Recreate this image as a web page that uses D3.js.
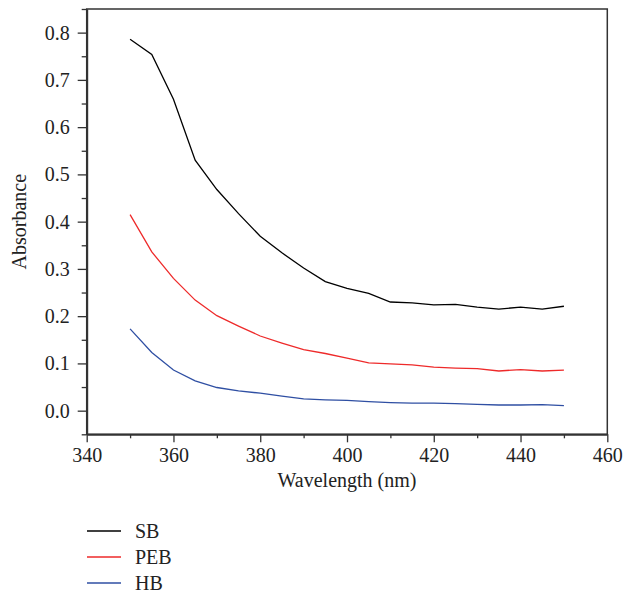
<!DOCTYPE html>
<html>
<head>
<meta charset="utf-8">
<script src="https://cdn.jsdelivr.net/npm/d3@7"></script>
<style>
  body { margin: 0; background: #fff; }
  svg text { font-family: "Liberation Serif", "DejaVu Serif", serif; fill: #222; }
</style>
</head>
<body>
<svg id="chart" width="636" height="595"></svg>
<script>
// wavelengths (nm) and absorbance per sample
const wavelengths = [350, 355, 360, 365, 370, 375, 380, 385, 390, 395, 400, 405, 410, 415, 420, 425, 430, 435, 440, 445, 450];
const sbValues  = [0.786, 0.754, 0.659, 0.530, 0.468, 0.417, 0.369, 0.334, 0.302, 0.273, 0.259, 0.248, 0.230, 0.228, 0.224, 0.225, 0.219, 0.215, 0.219, 0.215, 0.221];
const pebValues = [0.415, 0.336, 0.280, 0.234, 0.201, 0.179, 0.158, 0.143, 0.129, 0.121, 0.111, 0.101, 0.099, 0.097, 0.092, 0.090, 0.089, 0.084, 0.087, 0.084, 0.086];
const hbValues  = [0.173, 0.123, 0.086, 0.063, 0.049, 0.042, 0.037, 0.031, 0.025, 0.023, 0.022, 0.019, 0.017, 0.016, 0.016, 0.015, 0.0135, 0.012, 0.012, 0.0127, 0.0106];
const seriesNames = ["SB", "PEB", "HB"];
const seriesColors = ["#000000", "#ee2a2a", "#2f4fa3"];
const xTicks = [340, 360, 380, 400, 420, 440, 460];
const yTicks = [0.0, 0.1, 0.2, 0.3, 0.4, 0.5, 0.6, 0.7, 0.8];

const svg = d3.select("#chart");
const margin = {top: 9, left: 86.7, right: 28.7, bottom: 160.7};
const W = 636 - margin.left - margin.right;
const H = 595 - margin.top - margin.bottom;
const g = svg.append("g").attr("transform", `translate(${margin.left},${margin.top})`);

const x = d3.scaleLinear().domain([340, 460]).range([0, W]);
const y = d3.scaleLinear().domain([-0.05, 0.85]).range([H, 0]);

// frame
g.append("rect").attr("width", W).attr("height", H)
  .attr("fill", "none").attr("stroke", "#333").attr("stroke-width", 1.5);

// minor ticks
const xMinor = d3.range(340, 461, 10).filter(v => !xTicks.includes(v));
const yMinor = d3.range(-0.05, 0.86, 0.1).map(v => +v.toFixed(2));
g.append("g").attr("transform", `translate(0,${H})`)
  .call(d3.axisBottom(x).tickValues(xMinor).tickSize(4).tickFormat(""))
  .call(a => a.select(".domain").remove())
  .selectAll("line").attr("stroke", "#333").attr("stroke-width", 1.3);
g.append("g")
  .call(d3.axisLeft(y).tickValues(yMinor).tickSize(5).tickFormat(""))
  .call(a => a.select(".domain").remove())
  .selectAll("line").attr("stroke", "#333").attr("stroke-width", 1.3);

// major axes
const xAxis = g.append("g").attr("transform", `translate(0,${H})`)
  .call(d3.axisBottom(x).tickValues(xTicks).tickSize(8).tickSizeOuter(0).tickPadding(6).tickFormat(d3.format("d")));
const yAxis = g.append("g")
  .call(d3.axisLeft(y).tickValues(yTicks).tickSize(9).tickSizeOuter(0).tickPadding(8).tickFormat(d3.format(".1f")));
[xAxis, yAxis].forEach(a => {
  a.select(".domain").attr("stroke", "#333").attr("stroke-width", 2);
  a.selectAll(".tick line").attr("stroke", "#333").attr("stroke-width", 1.3);
  a.selectAll(".tick text")
    .style("font-size", "20px")
    .style("font-family", "'Liberation Serif', 'DejaVu Serif', serif")
    .attr("fill", "#222");
});

// axis titles
g.append("text").attr("x", W / 2).attr("y", H + 53)
  .attr("text-anchor", "middle").attr("font-size", 20).text("Wavelength (nm)");
g.append("text").attr("transform", `translate(${-61},${y(0.4)}) rotate(-90)`)
  .attr("text-anchor", "middle").attr("font-size", 20).text("Absorbance");

// lines
const allSeries = [sbValues, pebValues, hbValues];
const line = d3.line().x((d, i) => x(wavelengths[i])).y(d => y(d));
allSeries.forEach((vals, k) => {
  g.append("path").datum(vals)
    .attr("fill", "none").attr("stroke", seriesColors[k]).attr("stroke-width", 1.3)
    .attr("d", line);
});

// legend
const legend = svg.append("g").attr("transform", "translate(87,531)");
seriesNames.forEach((name, k) => {
  const item = legend.append("g").attr("transform", `translate(0,${k * 26})`);
  item.append("line").attr("x1", 0).attr("x2", 34).attr("y1", 0).attr("y2", 0)
    .attr("stroke", seriesColors[k]).attr("stroke-width", 1.3);
  item.append("text").attr("x", 48).attr("y", 7).attr("font-size", 20).text(name);
});
</script>
</body>
</html>
